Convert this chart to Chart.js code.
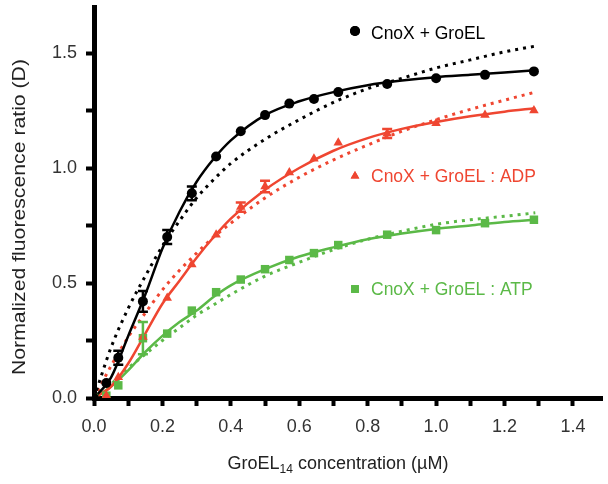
<!DOCTYPE html>
<html>
<head>
<meta charset="utf-8">
<script src="https://cdn.jsdelivr.net/npm/chart.js@4/dist/chart.umd.min.js"></script>
<style>
  html, body { margin: 0; padding: 0; background: #fff; }
  #wrap { width: 608px; height: 484px; }
</style>
</head>
<body>
<div id="wrap"><canvas id="chart" width="608" height="484"></canvas></div>
<script>
// GroEL14 concentration (uM) for the measured points
const concentrations = [0, 0.036, 0.071, 0.143, 0.214, 0.286, 0.357, 0.429, 0.5, 0.571, 0.643, 0.714, 0.857, 1.0, 1.143, 1.286];

// measured fluorescence ratio (D) and error bars
const groel      = [0, 0.065, 0.175, 0.42, 0.70, 0.89, 1.05, 1.16, 1.23, 1.28, 1.30, 1.33, 1.365, 1.39, 1.405, 1.42];
const groelErr   = [0, 0, 0.03, 0.045, 0.03, 0.03, 0, 0, 0, 0, 0, 0, 0, 0, 0, 0];
const groelAdp   = [0, 0.01, 0.09, 0.265, 0.435, 0.58, 0.71, 0.83, 0.92, 0.98, 1.04, 1.11, 1.15, 1.195, 1.23, 1.25];
const groelAdpErr = [0, 0, 0, 0, 0, 0, 0, 0.02, 0.025, 0, 0, 0, 0.02, 0, 0, 0];
const groelAtp   = [0, 0.01, 0.055, 0.26, 0.28, 0.38, 0.46, 0.515, 0.56, 0.60, 0.63, 0.665, 0.71, 0.73, 0.76, 0.775];
const groelAtpErr = [0, 0, 0, 0.07, 0, 0, 0, 0, 0, 0, 0, 0, 0, 0, 0, 0];

// fitted curves (solid = cooperative fit, dotted = hyperbolic fit)
const fitX = [0, 0.05, 0.1, 0.15, 0.2, 0.25, 0.3, 0.35, 0.4, 0.5, 0.6, 0.7, 0.8, 0.9, 1.0, 1.1, 1.2, 1.29];
const groelFit      = [0, 0.09, 0.27, 0.45, 0.65, 0.81, 0.94, 1.04, 1.12, 1.23, 1.29, 1.33, 1.36, 1.38, 1.395, 1.405, 1.415, 1.425];
const groelFitHyp   = [0, 0.22, 0.39, 0.53, 0.66, 0.77, 0.87, 0.95, 1.02, 1.125, 1.21, 1.285, 1.345, 1.39, 1.435, 1.47, 1.505, 1.53];
const groelAdpFit   = [0, 0.05, 0.15, 0.28, 0.41, 0.51, 0.61, 0.70, 0.78, 0.905, 1.0, 1.075, 1.13, 1.17, 1.20, 1.225, 1.245, 1.26];
const groelAdpFitHyp = [0, 0.14, 0.265, 0.37, 0.47, 0.555, 0.63, 0.70, 0.76, 0.87, 0.96, 1.035, 1.10, 1.16, 1.21, 1.255, 1.295, 1.33];
const groelAtpFit   = [0, 0.05, 0.12, 0.20, 0.27, 0.33, 0.38, 0.44, 0.49, 0.56, 0.615, 0.655, 0.69, 0.715, 0.735, 0.75, 0.765, 0.775];
const groelAtpFitHyp = [0, 0.06, 0.13, 0.19, 0.25, 0.305, 0.36, 0.405, 0.45, 0.53, 0.59, 0.645, 0.69, 0.725, 0.755, 0.775, 0.79, 0.805];

// axis ticks (minor ticks carry an empty label)
const xTicks = [0, 0.1, 0.2, 0.3, 0.4, 0.5, 0.6, 0.7, 0.8, 0.9, 1.0, 1.1, 1.2, 1.3, 1.4];
const xTickLabels = ['0.0', '', '0.2', '', '0.4', '', '0.6', '', '0.8', '', '1.0', '', '1.2', '', '1.4'];
const yTicks = [0, 0.25, 0.5, 0.75, 1.0, 1.25, 1.5];
const yTickLabels = ['0.0', '', '0.5', '', '1.0', '', '1.5'];

const seriesNames = ['CnoX + GroEL', 'CnoX + GroEL : ADP', 'CnoX + GroEL : ATP'];

const BLACK = '#000000';
const RED = '#ef4631';
const GREEN = '#5bb947';
const FONT = "'Liberation Sans', Arial, sans-serif";

function pairs(xs, ys) {
    return xs.map((x, i) => ({x: x, y: ys[i]}));
}

function pointSet(label, ys, color, style, radius) {
    return {
        label: label,
        data: pairs(concentrations, ys),
        showLine: false,
        pointStyle: style,
        pointRadius: radius,
        pointBackgroundColor: color,
        pointBorderColor: color,
        pointBorderWidth: 0,
        order: 0
    };
}

function fitSet(ys, color, dotted) {
    return {
        data: pairs(fitX, ys),
        showLine: true,
        borderColor: color,
        borderWidth: dotted ? 3 : 2.5,
        borderDash: dotted ? [3, 5] : [],
        cubicInterpolationMode: 'monotone',
        pointRadius: 0,
        fill: false,
        order: dotted ? 2 : 1
    };
}

// drop the label overhang padding so the plot fills the canvas like the figure
function noPadding(scale) {
    scale.paddingTop = 0;
    scale.paddingBottom = 0;
    scale.paddingLeft = 0;
    scale.paddingRight = 0;
}

function labelFor(values, labels) {
    return (v) => {
        const i = values.findIndex(t => Math.abs(t - v) < 1e-6);
        return i < 0 ? '' : labels[i];
    };
}

const errorBars = {
    id: 'errorBars',
    afterDatasetsDraw(chart) {
        const ctx = chart.ctx;
        const xs = chart.scales.x;
        const ys = chart.scales.y;
        const sets = [[groel, groelErr, BLACK], [groelAdp, groelAdpErr, RED], [groelAtp, groelAtpErr, GREEN]];
        ctx.save();
        ctx.lineWidth = 2.5;
        for (const [vals, errs, color] of sets) {
            ctx.strokeStyle = color;
            errs.forEach((e, i) => {
                if (!e) return;
                const px = xs.getPixelForValue(concentrations[i]);
                const top = ys.getPixelForValue(vals[i] + e);
                const bot = ys.getPixelForValue(vals[i] - e);
                ctx.beginPath();
                ctx.moveTo(px, top); ctx.lineTo(px, bot);
                ctx.moveTo(px - 5, top); ctx.lineTo(px + 5, top);
                ctx.moveTo(px - 5, bot); ctx.lineTo(px + 5, bot);
                ctx.stroke();
            });
        }
        ctx.restore();
    }
};

const annotations = {
    id: 'annotations',
    afterDraw(chart) {
        const ctx = chart.ctx;
        ctx.save();

        // y axis title, stretched along its length like the original
        ctx.fillStyle = '#222';
        ctx.font = '18px ' + FONT;
        ctx.textAlign = 'center';
        ctx.textBaseline = 'alphabetic';
        const yTitle = 'Normalized fluorescence ratio (D)';
        const stretch = 316 / ctx.measureText(yTitle).width;
        ctx.save();
        ctx.translate(24.5, 217);
        ctx.rotate(-Math.PI / 2);
        ctx.scale(stretch, 1);
        ctx.fillText(yTitle, 0, 0);
        ctx.restore();

        // x axis title with subscript
        ctx.textAlign = 'left';
        const big = '18px ' + FONT;
        const small = '12px ' + FONT;
        const parts = [['GroEL', big, 0], ['14', small, 4], [' concentration (\u00b5M)', big, 0]];
        let total = 0;
        for (const [t, f] of parts) { ctx.font = f; total += ctx.measureText(t).width; }
        let cx = 338 - total / 2;
        for (const [t, f, dy] of parts) {
            ctx.font = f;
            ctx.fillText(t, cx, 469 + dy);
            cx += ctx.measureText(t).width;
        }

        // in-plot series labels
        const labels = [
            [seriesNames[0], BLACK, 'circle', 5, 31, 39],
            [seriesNames[1], RED, 'triangle', 5, 176, 182],
            [seriesNames[2], GREEN, 'rect', 5.5, 289, 295]
        ];
        ctx.font = '17.5px ' + FONT;
        for (const [text, color, style, r, my, ty] of labels) {
            ctx.fillStyle = color;
            ctx.strokeStyle = color;
            Chart.helpers.drawPoint(ctx, {pointStyle: style, radius: r, borderWidth: 0}, 355, my);
            ctx.fill();
            ctx.fillText(text, 371, ty);
        }
        ctx.restore();
    }
};

new Chart(document.getElementById('chart'), {
    type: 'scatter',
    data: {
        datasets: [
            pointSet(seriesNames[0], groel, BLACK, 'circle', 5),
            pointSet(seriesNames[1], groelAdp, RED, 'triangle', 5.5),
            pointSet(seriesNames[2], groelAtp, GREEN, 'rect', 6),
            fitSet(groelFit, BLACK, false),
            fitSet(groelFitHyp, BLACK, true),
            fitSet(groelAdpFit, RED, false),
            fitSet(groelAdpFitHyp, RED, true),
            fitSet(groelAtpFit, GREEN, false),
            fitSet(groelAtpFitHyp, GREEN, true)
        ]
    },
    options: {
        responsive: false,
        animation: false,
        devicePixelRatio: 1,
        layout: { padding: { top: 7, right: 0, left: 0, bottom: 0 } },
        plugins: {
            legend: { display: false },
            tooltip: { enabled: false }
        },
        scales: {
            x: {
                type: 'linear',
                min: 0,
                max: 1.485,
                afterBuildTicks(scale) { scale.ticks = xTicks.map(v => ({value: v})); },
                afterFit(scale) { scale.height = 86; noPadding(scale); },
                border: { display: true, width: 5, color: BLACK },
                grid: { drawOnChartArea: false, drawTicks: true, tickLength: 8, tickWidth: 4, tickColor: BLACK },
                ticks: {
                    autoSkip: false,
                    maxRotation: 0,
                    padding: 10,
                    color: '#333',
                    font: { size: 18, family: FONT },
                    callback: labelFor(xTicks, xTickLabels)
                }
            },
            y: {
                type: 'linear',
                min: 0,
                max: 1.7,
                afterBuildTicks(scale) { scale.ticks = yTicks.map(v => ({value: v})); },
                afterFit(scale) { scale.width = 94; noPadding(scale); },
                border: { display: true, width: 5, color: BLACK },
                grid: { drawOnChartArea: false, drawTicks: true, tickLength: 8, tickWidth: 4, tickColor: BLACK },
                ticks: {
                    padding: 9,
                    color: '#333',
                    font: { size: 18, family: FONT },
                    callback: labelFor(yTicks, yTickLabels)
                }
            }
        }
    },
    plugins: [errorBars, annotations]
});
</script>
</body>
</html>
